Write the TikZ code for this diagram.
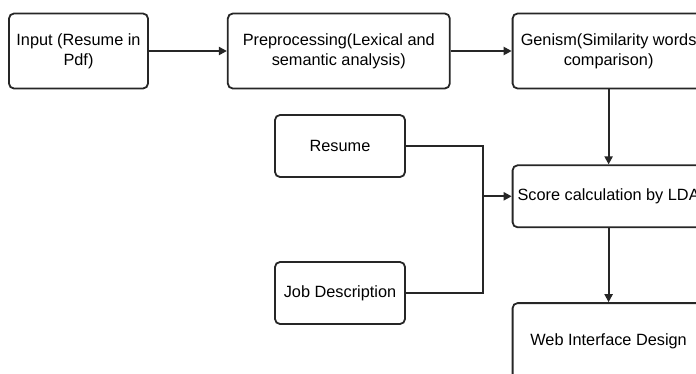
\documentclass[tikz,border=0pt]{standalone}
\usepackage{fontspec}
\setmainfont{Liberation Sans}
\usetikzlibrary{positioning,arrows.meta}
\tikzstyle{etapa} = [draw=black!85, line width=1.8pt, rectangle, rounded corners=5pt, align=center, inner sep=2pt, minimum height=75pt, font=\fontsize{16.3}{20}\selectfont]
\tikzstyle{etapachica} = [etapa, minimum height=62pt]
\tikzstyle{linea} = [draw=black!85, line width=2pt]
\tikzstyle{flecha} = [linea, -{Triangle[length=8pt,width=8pt]}]

\begin{document}
\begin{tikzpicture}[x=1pt,y=-1pt]
		\useasboundingbox (0,0) rectangle (696,373);
		\clip (0,0) rectangle (696,373);
		\node[etapa, minimum width=139pt](input) at (78.5,51) {Input (Resume in\\Pdf)};
		\node[etapa, minimum width=222pt, right=78pt of input](prep) {Preprocessing(Lexical and\\semantic analysis)};
		\node[etapa, minimum width=192pt, right=61pt of prep](genism) {Genism(Similarity words\\comparison)};
		\node[etapachica, minimum width=192pt, below=75pt of genism](score) {Score calculation by LDA};
		\node[etapa, minimum width=192pt, minimum height=76pt, below=74pt of score](web) {Web Interface Design};
		\node[etapachica, minimum width=130pt](resume) at (340,146) {Resume};
		\node[etapachica, minimum width=130pt](jobdesc) at (340,293) {Job Description};
		\path (score.west) ++(-29,0) coordinate (union);
		\draw[flecha] (input) -- (prep);
		\draw[flecha] (prep) -- (genism);
		\draw[flecha] (genism) -- (score);
		\draw[flecha] (score) -- (web);
		\draw[linea] (resume.east) -| (union) |- (jobdesc.east);
		\draw[flecha] (union) -- (score.west);
	\end{tikzpicture}
\end{document}
